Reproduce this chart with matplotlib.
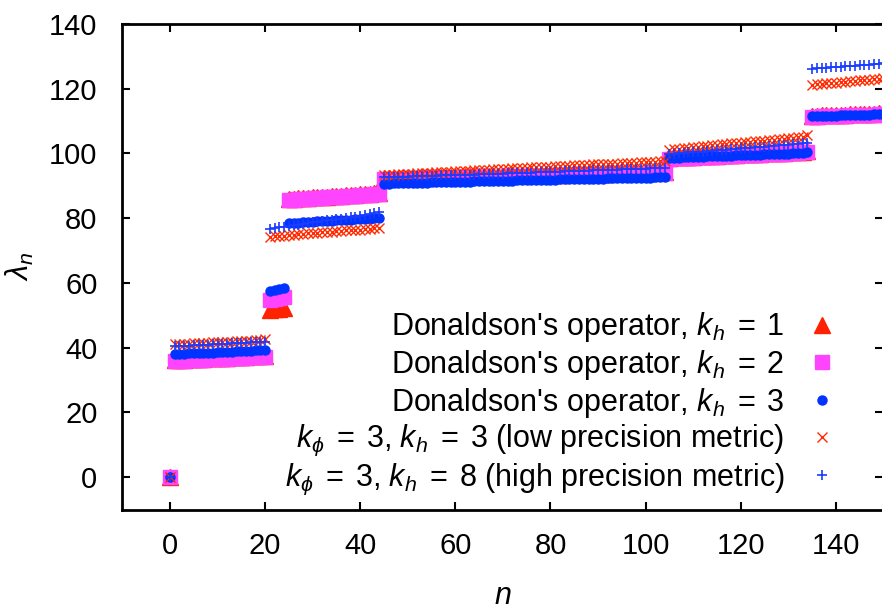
import numpy as np
import matplotlib
matplotlib.use("Agg")
import matplotlib.pyplot as plt

plt.rcParams['font.family'] = ['Liberation Sans', 'DejaVu Sans']
plt.rcParams['mathtext.fontset'] = 'custom'
plt.rcParams['mathtext.rm'] = 'Liberation Sans'
plt.rcParams['mathtext.it'] = 'Liberation Sans:italic'
plt.rcParams['mathtext.bf'] = 'Liberation Sans:bold'

# eigenvalues lambda_n, n = 0..150
kh1 = [0.0,
       36.2, 36.3, 36.3, 36.4, 36.5, 36.5, 36.6, 36.7, 36.7, 36.8, 36.9, 36.9, 37.0, 37.1, 37.1, 37.2, 37.3, 37.3, 37.4, 37.5,
       51.6, 51.8, 52.0, 52.2,
       85.9, 86.0, 86.1, 86.2, 86.3, 86.4, 86.5, 86.6, 86.7, 86.8, 86.9, 87.0, 87.1, 87.2, 87.3, 87.4, 87.5, 87.6, 87.7, 87.9,
       92.3, 92.3, 92.4, 92.4, 92.4, 92.5, 92.5, 92.5, 92.6, 92.6,
       92.6, 92.7, 92.7, 92.7, 92.8, 92.8, 92.8, 92.9, 92.9, 92.9,
       93.0, 93.0, 93.0, 93.1, 93.1, 93.1, 93.2, 93.2, 93.2, 93.3,
       93.3, 93.3, 93.4, 93.4, 93.4, 93.5, 93.5, 93.5, 93.6, 93.6,
       93.6, 93.7, 93.7, 93.7, 93.8, 93.8, 93.8, 93.8, 93.9, 93.9,
       93.9, 94.0, 94.0, 94.0, 94.1, 94.1, 94.1, 94.2, 94.2, 94.3,
       98.7, 98.8, 98.8, 98.9, 99.0, 99.0, 99.1, 99.2, 99.2, 99.3,
       99.3, 99.4, 99.5, 99.5, 99.6, 99.7, 99.7, 99.8, 99.8, 99.9,
       100.0, 100.0, 100.1, 100.2, 100.2, 100.3, 100.4, 100.5, 100.6, 100.8,
       111.7, 111.7, 111.8, 111.8, 111.9, 111.9, 112.0, 112.0, 112.1, 112.1, 112.2, 112.2, 112.3, 112.3, 112.4, 112.5]

kh2 = [0.0,
       35.9, 36.0, 36.0, 36.1, 36.2, 36.2, 36.3, 36.4, 36.4, 36.5, 36.6, 36.6, 36.7, 36.8, 36.8, 36.9, 37.0, 37.0, 37.1, 37.2,
       54.6, 54.9, 55.2, 55.5,
       85.6, 85.7, 85.8, 85.9, 86.0, 86.1, 86.2, 86.3, 86.4, 86.5, 86.6, 86.7, 86.8, 86.9, 87.0, 87.1, 87.2, 87.3, 87.4, 87.6,
       92.0, 92.0, 92.1, 92.1, 92.1, 92.2, 92.2, 92.2, 92.3, 92.3,
       92.3, 92.4, 92.4, 92.4, 92.5, 92.5, 92.5, 92.6, 92.6, 92.6,
       92.7, 92.7, 92.7, 92.8, 92.8, 92.8, 92.9, 92.9, 92.9, 93.0,
       93.0, 93.0, 93.1, 93.1, 93.1, 93.2, 93.2, 93.2, 93.3, 93.3,
       93.3, 93.4, 93.4, 93.4, 93.5, 93.5, 93.5, 93.5, 93.6, 93.6,
       93.6, 93.7, 93.7, 93.7, 93.8, 93.8, 93.8, 93.9, 93.9, 94.0,
       98.4, 98.5, 98.5, 98.6, 98.7, 98.7, 98.8, 98.9, 98.9, 99.0,
       99.0, 99.1, 99.2, 99.2, 99.3, 99.4, 99.4, 99.5, 99.5, 99.6,
       99.7, 99.7, 99.8, 99.9, 99.9, 100.0, 100.1, 100.2, 100.3, 100.5,
       111.4, 111.4, 111.5, 111.5, 111.6, 111.6, 111.7, 111.7, 111.8, 111.8, 111.9, 111.9, 112.0, 112.0, 112.1, 112.2]

kh3 = [0.0,
       37.9, 38.0, 38.1, 38.2, 38.3, 38.3, 38.4, 38.5, 38.5, 38.6, 38.7, 38.8, 38.8, 38.9, 39.0, 39.0, 39.1, 39.2, 39.3, 39.4,
       57.6, 57.9, 58.1, 58.4,
       78.4, 78.5, 78.6, 78.7, 78.8, 78.9, 79.0, 79.0, 79.1, 79.2, 79.3, 79.4, 79.4, 79.5, 79.6, 79.7, 79.8, 79.9, 80.0, 80.2,
       90.7, 90.7, 90.8, 90.8, 90.9, 90.9, 90.9, 91.0, 91.0, 91.0,
       91.1, 91.1, 91.1, 91.2, 91.2, 91.2, 91.3, 91.3, 91.3, 91.4,
       91.4, 91.4, 91.5, 91.5, 91.5, 91.6, 91.6, 91.6, 91.7, 91.7,
       91.7, 91.8, 91.8, 91.8, 91.9, 91.9, 91.9, 92.0, 92.0, 92.0,
       92.1, 92.1, 92.1, 92.1, 92.2, 92.2, 92.2, 92.3, 92.3, 92.3,
       92.3, 92.4, 92.4, 92.4, 92.5, 92.5, 92.5, 92.6, 92.6, 92.7,
       98.6, 98.7, 98.7, 98.8, 98.9, 98.9, 99.0, 99.0, 99.1, 99.1,
       99.2, 99.2, 99.3, 99.3, 99.4, 99.4, 99.5, 99.5, 99.6, 99.6,
       99.7, 99.7, 99.8, 99.8, 99.9, 99.9, 100.0, 100.1, 100.2, 100.3,
       111.5, 111.5, 111.6, 111.6, 111.7, 111.7, 111.8, 111.8, 111.8, 111.9, 111.9, 112.0, 112.0, 112.1, 112.1, 112.2]

low_prec = [0.0,
            41.0, 41.1, 41.2, 41.2, 41.3, 41.4, 41.5, 41.5, 41.6, 41.7, 41.8, 41.8, 41.9, 42.0, 42.1, 42.1, 42.2, 42.3, 42.4, 42.6,
            74.2, 74.4, 74.5, 74.6, 74.8, 74.9, 75.0, 75.1, 75.3, 75.4, 75.5, 75.6,
            75.7, 75.8, 75.9, 76.0, 76.2, 76.3, 76.4, 76.5, 76.6, 76.8, 76.9, 77.1,
            93.4, 93.5, 93.5, 93.6, 93.7, 93.8, 93.8, 93.9, 94.0, 94.1,
            94.1, 94.2, 94.3, 94.4, 94.4, 94.5, 94.6, 94.6, 94.7, 94.8,
            94.9, 94.9, 95.0, 95.1, 95.2, 95.2, 95.3, 95.4, 95.4, 95.5,
            95.6, 95.7, 95.7, 95.8, 95.9, 95.9, 96.0, 96.1, 96.1, 96.2,
            96.3, 96.4, 96.4, 96.5, 96.6, 96.6, 96.7, 96.8, 96.9, 96.9,
            97.0, 97.1, 97.1, 97.2, 97.3, 97.4, 97.4, 97.5, 97.6, 97.8,
            101.2, 101.4, 101.5, 101.7, 101.8, 101.9, 102.1, 102.2, 102.4, 102.5,
            102.6, 102.8, 102.9, 103.1, 103.2, 103.3, 103.5, 103.6, 103.8, 103.9,
            104.0, 104.2, 104.3, 104.5, 104.6, 104.7, 104.9, 105.0, 105.2, 105.6,
            121.2, 121.4, 121.5, 121.7, 121.8, 121.9, 122.0, 122.2, 122.3, 122.4, 122.6, 122.7, 122.8, 122.9, 123.1, 123.3]

high_prec = [0.0,
             40.4, 40.5, 40.6, 40.6, 40.7, 40.8, 40.9, 40.9, 41.0, 41.1, 41.1, 41.2, 41.3, 41.4, 41.4, 41.5, 41.6, 41.7, 41.8, 41.9,
             76.8, 77.0, 77.2, 77.4, 77.6, 77.8, 78.0, 78.3, 78.5, 78.7, 78.9, 79.1,
             79.3, 79.5, 79.7, 79.9, 80.1, 80.3, 80.5, 80.7, 81.0, 81.2, 81.5, 81.8,
             92.6, 92.6, 92.7, 92.7, 92.8, 92.8, 92.9, 92.9, 93.0, 93.0,
             93.1, 93.1, 93.2, 93.2, 93.3, 93.3, 93.4, 93.4, 93.5, 93.5,
             93.6, 93.6, 93.7, 93.7, 93.8, 93.8, 93.9, 93.9, 94.0, 94.0,
             94.1, 94.1, 94.2, 94.2, 94.3, 94.3, 94.4, 94.4, 94.5, 94.5,
             94.6, 94.6, 94.7, 94.7, 94.8, 94.8, 94.9, 94.9, 95.0, 95.0,
             95.1, 95.1, 95.2, 95.2, 95.3, 95.3, 95.4, 95.4, 95.5, 95.6,
             99.8, 99.9, 100.0, 100.2, 100.3, 100.4, 100.5, 100.6, 100.7, 100.9,
             101.0, 101.1, 101.2, 101.3, 101.4, 101.6, 101.7, 101.8, 101.9, 102.0,
             102.1, 102.3, 102.4, 102.5, 102.6, 102.7, 102.8, 103.0, 103.1, 103.3,
             126.2, 126.3, 126.4, 126.5, 126.6, 126.7, 126.8, 126.9, 127.0, 127.1, 127.2, 127.3, 127.4, 127.5, 127.6, 127.8]

labels = [r"Donaldson's operator, $k_h\;=\;1$",
          r"Donaldson's operator, $k_h\;=\;2$",
          r"Donaldson's operator, $k_h\;=\;3$",
          r"$k_\phi\;=\;3$, $k_h\;=\;3$ (low precision metric)",
          r"$k_\phi\;=\;3$, $k_h\;=\;8$ (high precision metric)"]

series = [kh1, kh2, kh3, low_prec, high_prec]
styles = [dict(marker='^', color='#ff2200', ms=11.5),
          dict(marker='s', color='#ff44ff', ms=9.5),
          dict(marker='o', color='#0033ff', ms=6.5),
          dict(marker='x', color='#ff2a00', ms=6.5, mew=1.0),
          dict(marker='+', color='#1a3cff', ms=7, mew=1.2)]

fig = plt.figure(figsize=(8.82, 6.12), dpi=100)
ax = fig.add_axes([122.4 / 882, 1 - 509.5 / 612, 761 / 882, 485.5 / 612])

for vals, lab, st in zip(series, labels, styles):
    n = np.arange(len(vals))
    ax.plot(n, vals, linestyle='none', label=lab, **st)

ax.set_xlim(-10, 150)
ax.set_ylim(-10, 140)
ax.set_xticks(range(0, 141, 20))
ax.set_yticks(range(0, 141, 20))
ax.tick_params(direction='in', length=6, width=1.5, labelsize=21,
               top=True, right=True)
ax.tick_params(axis='x', pad=16)
ax.tick_params(axis='y', pad=18)
for sp in ax.spines.values():
    sp.set_linewidth(2)

ax.set_xlabel(r'$n$', fontsize=22, labelpad=15)
ax.set_ylabel(r'$\lambda_n$', fontsize=22, labelpad=9)

leg = ax.legend(loc='lower right', bbox_to_anchor=(0.96, 0.0), frameon=False,
                markerfirst=False, fontsize=22, handlelength=1.2,
                handletextpad=0.65, labelspacing=0.12, borderaxespad=0)

fig.savefig('out.png', dpi=100)
